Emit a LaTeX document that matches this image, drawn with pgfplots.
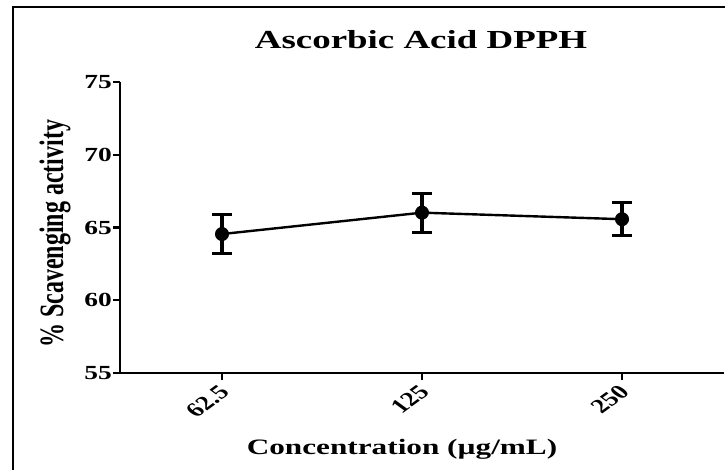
\documentclass[border=0pt]{standalone}
\usepackage{pgfplots}
\pgfplotsset{compat=1.18}
\usepackage{fontspec}
\setmainfont{Liberation Serif}
\newcommand\tlf{\fontsize{20}{20}\selectfont\bfseries}
\begin{document}
\begin{tikzpicture}[x=1pt,y=1pt]
\useasboundingbox (0,0) rectangle (725,470);
% frame of the figure (left and top edge only)
\draw[line width=1.5pt] (13,0) -- (13,463) -- (725,463);
\begin{axis}[
    at={(120pt,97pt)}, anchor=south west,
    scale only axis, width=604pt, height=291pt,
    xmin=-0.51, xmax=2.51, ymin=55, ymax=75,
    axis x line*=bottom, axis y line*=left,
    axis line style={line width=2.6pt,-},
    xtick={0,1,2},
    xticklabel={\scalebox{1.37}[1]{\rotatebox{45}{\tlf\ifcase\ticknum\relax 62.5\or 125\or 250\fi}}},
    ytick={55,60,65,70,75},
    yticklabel={\scalebox{1.37}[1]{\tlf\pgfmathprintnumber[assume math mode=true]{\tick}}},
    tick style={line width=2.4pt, black},
    major tick length=7pt,
    tick align=outside,
    yticklabel style={anchor=east, inner sep=1pt},
    xticklabel style={anchor=north east, inner sep=0pt, xshift=9pt, yshift=-4pt},
    clip=false,
]
\addplot[black, line width=2.4pt, mark=*, mark size=6.5pt,
    mark options={solid, fill=black, line width=1pt},
    error bars/.cd, y dir=both, y explicit,
    error bar style={line width=3.8pt, black},
    error mark options={black, rotate=90, line width=3pt, mark size=10pt}]
  coordinates {
    (0,64.55) +- (0,1.35)
    (1,66.02) +- (0,1.35)
    (2,65.57) +- (0,1.13)
  };
\end{axis}
\node[font=\fontsize{26}{26}\selectfont\bfseries, xscale=1.42, anchor=base] at (421,421) {Ascorbic Acid DPPH};
\node[font=\fontsize{22}{22}\selectfont\bfseries, xscale=1.42, anchor=base] at (402,15) {Concentration (µg/mL)};
\node[font=\fontsize{24}{24}\selectfont\bfseries, xscale=1.42, rotate=90] at (55,236) {\% Scavenging activity};
\end{tikzpicture}
\end{document}
